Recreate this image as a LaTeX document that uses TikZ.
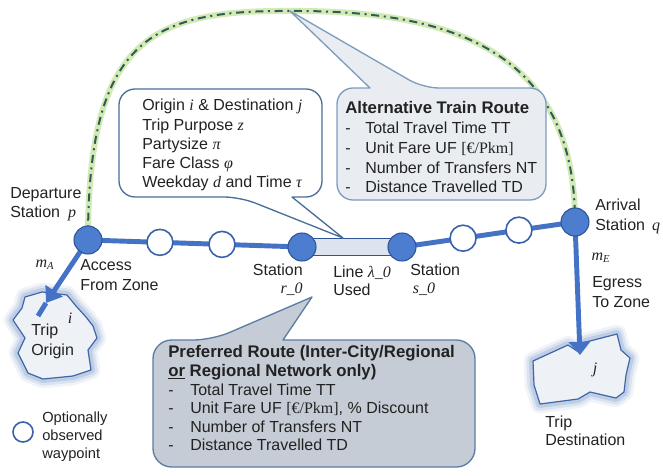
\documentclass[tikz,border=0pt]{standalone}
\usepackage{fontspec}
\setmainfont{Liberation Sans}
\newfontfamily\tms{Liberation Serif}
\usetikzlibrary{calc,arrows.meta}
\newcommand{\mv}[1]{{\tms\itshape #1}}
\newcommand{\dashitemA}{\makebox[15pt][l]{-}}
\newcommand{\dashitemB}{\makebox[16.5pt][l]{-}}
\newcommand{\hd}{\fontsize{12.6}{14}\selectfont\bfseries}
\definecolor{routeblue}{HTML}{4472C4}
\definecolor{stfill}{HTML}{4C7DCF}
\definecolor{stedge}{HTML}{2F5597}
\definecolor{wpedge}{HTML}{3A62A8}
\definecolor{cedge}{HTML}{4A6E9A}
\definecolor{altfill}{HTML}{E9EDF2}
\definecolor{altedge}{HTML}{7F9BBE}
\definecolor{preffill}{HTML}{C6CCD5}
\definecolor{prefedge}{HTML}{5B7CA5}
\definecolor{usedfill}{HTML}{DCE4EF}
\definecolor{zonefill}{HTML}{EEF1F6}
\definecolor{zoneedge}{HTML}{3D67A8}
\definecolor{glowblue}{HTML}{6F8FC4}
\definecolor{halo}{HTML}{D3EAB4}
\definecolor{arcdash}{HTML}{2F5B58}
\definecolor{txtc}{HTML}{222222}
\begin{document}
\begin{tikzpicture}[x=0.75pt,y=-0.75pt,
  every node/.style={inner sep=0pt, text=txtc, font=\fontsize{12}{14.4}\selectfont},
  station/.style={circle, minimum size=21pt, fill=stfill, draw=stedge, line width=0.8pt},
  waypt/.style={circle, minimum size=19.5pt, fill=white, draw=wpedge, line width=1.2pt},
  route/.style={line width=3.7pt, draw=routeblue},
  txt/.style={align=left, anchor=north west},
  calloutA/.style={fill=white, draw=cedge, line width=1pt, line join=round},
  calloutB/.style={fill=altfill, draw=altedge, line width=1pt, line join=round},
  calloutC/.style={fill=preffill, draw=prefedge, line width=1pt, line join=round},
  zonefillst/.style={fill=zonefill, draw=zoneedge, line width=0.9pt, line join=round}
]
\useasboundingbox (0,0) rectangle (663,475);

% named coordinates
\coordinate (P) at (88,240);
\coordinate (Q) at (575,222);
\coordinate (R0) at (302,247);
\coordinate (S0) at (402,247);
\coordinate (W1) at ($(P)!0.336!(R0)$);
\coordinate (W2) at ($(P)!0.626!(R0)$);
\coordinate (W3) at ($(S0)!0.353!(Q)$);
\coordinate (W4) at ($(S0)!0.676!(Q)$);
\coordinate (T) at (290,11);
\coordinate (AT) at (46,303);
\coordinate (AE) at (38,316);
\coordinate (ET) at (580,355);

% alternative route arc
\draw[halo, line width=4.5pt, line cap=round]
  (P) .. controls (88,40) and (150,10) .. (T) .. controls (450,10) and (575,50) .. (Q);
\draw[arcdash, line width=1.5pt, dash pattern=on 6pt off 3.5pt on 1.5pt off 3.5pt]
  (P) .. controls (88,40) and (150,10) .. (T) .. controls (450,10) and (575,50) .. (Q);

% trip origin zone
\foreach \w/\o in {14/0.10, 10/0.16, 6/0.26}{
\draw[glowblue, line width=\w pt, opacity=\o, line join=round]
  (25,297) -- (42,292) -- (67,295) -- (76,306) -- (86,317) -- (93,326) -- (97,338) -- (88,350) -- (91,370) -- (73,376) -- (43,379) -- (28,373) -- (18,353) -- (25,338) -- (13,320) -- (22,308) -- cycle;}
\draw[zonefillst]
  (25,297) -- (42,292) -- (67,295) -- (76,306) -- (86,317) -- (93,326) -- (97,338) -- (88,350) -- (91,370) -- (73,376) -- (43,379) -- (28,373) -- (18,353) -- (25,338) -- (13,320) -- (22,308) -- cycle;

% trip destination zone
\foreach \w/\o in {14/0.10, 10/0.16, 6/0.26}{
\draw[glowblue, line width=\w pt, opacity=\o, line join=round]
  (533,361) -- (568,345) -- (577,351) -- (586,342) -- (617,334) -- (621,350) -- (630,358) -- (626,375) -- (624,392) -- (616,398) -- (590,392) -- (578,399) -- (540,404) -- (534,385) -- cycle;}
\draw[zonefillst]
  (533,361) -- (568,345) -- (577,351) -- (586,342) -- (617,334) -- (621,350) -- (630,358) -- (626,375) -- (624,392) -- (616,398) -- (590,392) -- (578,399) -- (540,404) -- (534,385) -- cycle;

% access and egress
\draw[route, -{Triangle[length=11pt,width=15pt]}] (P) -- (AT);
\draw[route] (AT) -- (AE);
\draw[route, -{Triangle[length=10pt,width=16pt]}] (Q) -- (ET);

% route lines
\draw[route] (P) -- (R0);
\draw[route] (S0) -- (Q);
\draw[fill=usedfill, draw=stedge, line width=0.9pt] ($(R0)+(0,-8.5)$) rectangle ($(S0)+(0,8.5)$);

% stations and waypoints
\node[waypt] (w1) at (W1) {};
\node[waypt] (w2) at (W2) {};
\node[waypt] (w3) at (W3) {};
\node[waypt] (w4) at (W4) {};
\node[station] (p) at (P) {};
\node[station] (q) at (Q) {};
\node[station] (r0) at (R0) {};
\node[station] (s0) at (S0) {};

% callouts
\draw[calloutA] (343,238) -- (292,197) [rounded corners=12] -- (322,197) -- (322,89) -- (119,89) -- (119,197) -- (240,197) [sharp corners] -- cycle;
\draw[calloutB] (T) -- (370,88) [rounded corners=12] -- (337,88) -- (337,200) -- (546,200) -- (546,88) -- (423,88) [sharp corners] -- cycle;
\draw[calloutC] (312,297) -- (283,340) [rounded corners=14] -- (475,340) -- (475,467) -- (153,467) -- (153,340) -- (212,340) [sharp corners] -- cycle;

% callout texts
\node[txt, font=\fontsize{12}{14.44}\selectfont] (ctxt) at (142,99)
  {Origin \mv{i} \& Destination \mv{j}\\Trip Purpose \mv{z}\\Partysize \mv{π}\\Fare Class \mv{φ}\\Weekday \mv{d} and Time \mv{τ}};
\node[txt, font=\fontsize{12}{14.8}\selectfont] (atxt) at (345,101.5)
  {{\hd Alternative Train Route}\\\dashitemA Total Travel Time TT\\\dashitemA Unit Fare UF {\tms [€/Pkm]}\\\dashitemA Number of Transfers NT\\\dashitemA Distance Travelled TD};
\node[txt, font=\fontsize{12}{13.95}\selectfont] (ptxt) at (168,345.5)
  {{\hd Preferred Route (Inter-City/Regional}\\{\hd \underline{or} Regional Network only)}\\\dashitemB Total Travel Time TT\\\dashitemB Unit Fare UF {\tms [€/Pkm]}, \% Discount\\\dashitemB Number of Transfers NT\\\dashitemB Distance Travelled TD};

% labels
\node[txt, font=\fontsize{12}{14.25}\selectfont] (lp) at (10,187) {Departure\\Station\hspace{6pt}\mv{p}};
\node (lma) at (45,265) {\mv{m}\textsubscript{\mv{A}}};
\node[txt, font=\fontsize{12}{15}\selectfont] (lacc) at (80,259) {Access\\From Zone};
\node[align=right, anchor=north east, font=\fontsize{12}{13.5}\selectfont] (lr) at (303,264) {Station\\\mv{r\_0}};
\node[txt, font=\fontsize{12}{13.5}\selectfont] (lline) at (333,266) {Line \mv{λ\_0}\\Used};
\node[txt, font=\fontsize{12}{13.5}\selectfont] (ls) at (410,264) {Station\\\hspace{2pt}\mv{s\_0}};
\node[txt, font=\fontsize{12}{15}\selectfont] (lq) at (595,199) {Arrival\\Station\hspace{2pt} \mv{q}};
\node (lme) at (601,258) {\mv{m}\textsubscript{\mv{E}}};
\node[txt, font=\fontsize{12}{15}\selectfont] (legr) at (592,276) {Egress\\To Zone};
\node[txt, font=\fontsize{12}{13.5}\selectfont] (ldest) at (545,416) {Trip\\Destination};
\node (lj) at (595,370) {\mv{j}};
\node[txt, font=\fontsize{12}{15}\selectfont] (lorig) at (31,324) {Trip\\Origin};
\node (li) at (70,318) {\mv{i}};

% legend
\node[waypt, minimum size=15pt] (leg) at (23,432) {};
\node[txt, font=\fontsize{11}{13.5}\selectfont] (legt) at (42,412) {Optionally\\observed\\waypoint};
\end{tikzpicture}
\end{document}
